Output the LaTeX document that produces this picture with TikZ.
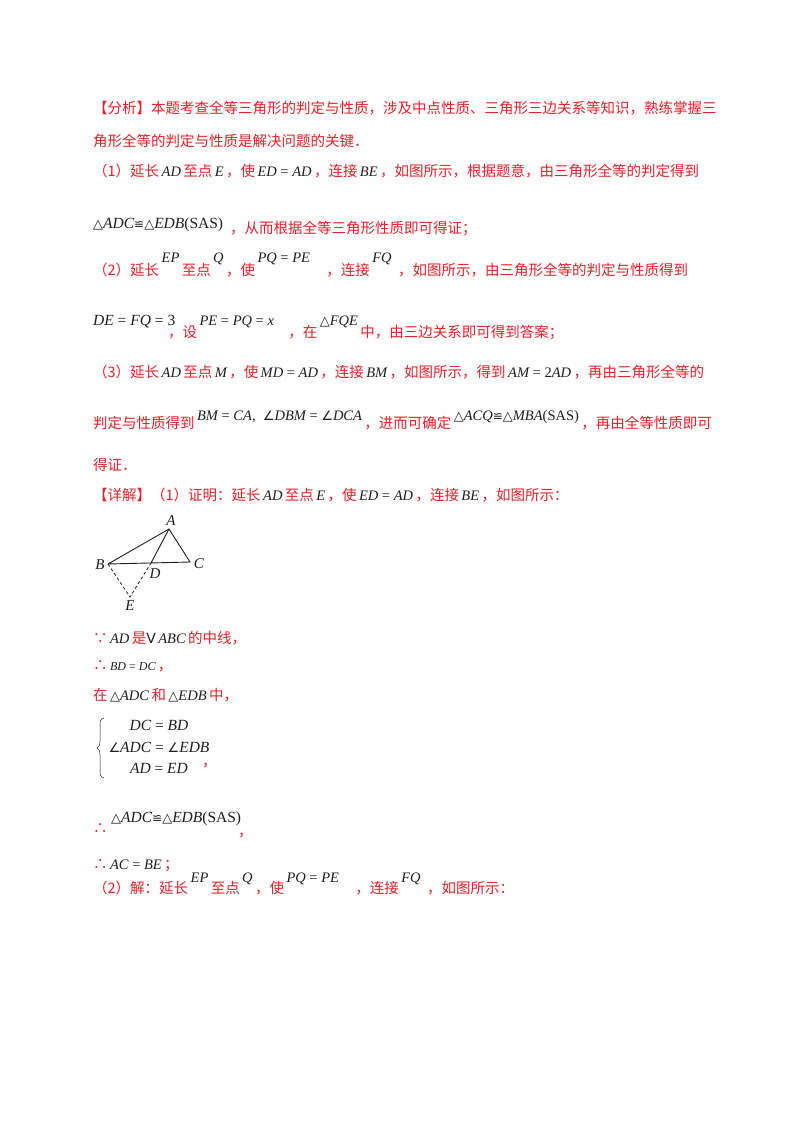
\documentclass[tikz,border=0pt]{standalone}
\usepackage{fontspec}
\setmainfont{Liberation Serif}
\newfontfamily\cjk{Noto Sans CJK SC}
\newfontfamily\djv{DejaVu Sans}
\definecolor{rd}{RGB}{240,30,40}
\definecolor{mk}{RGB}{30,30,30}
\newcommand\m[1]{\,{\color{mk}\fontspec{Liberation Serif}\itshape #1}\,}
\newcommand\upr[1]{{\upshape #1}}
\newcommand\mycong{{\djv\upshape\fontsize{12}{12}\selectfont ≌}}
\newcommand\mytri{{\djv\upshape\fontsize{13}{13}\selectfont △}}
\newcommand\myang{{\djv\upshape\fontsize{13}{13}\selectfont ∠}}
\begin{document}
\begin{tikzpicture}[x=1pt,y=-1pt,
  t/.style={anchor=base west,inner sep=0pt,text=rd,font=\cjk\fontsize{14.5}{17}\selectfont},
  mm/.style={anchor=base west,inner sep=0pt,text=mk,font=\fontsize{15.5}{17}\selectfont\itshape},
  lb/.style={inner sep=0pt,text=mk,font=\fontsize{15}{17}\selectfont\itshape}]
\useasboundingbox[fill=white] (0,0) rectangle (800,1132);
\node[t] (l1) at (93,113) {【分析】本题考查全等三角形的判定与性质，涉及中点性质、三角形三边关系等知识，熟练掌握三};
\node[t] (l2) at (93,146) {角形全等的判定与性质是解决问题的关键．};
\node[t] (l3) at (93,176) {（1）延长\m{AD}至点\m{E}，使\m{ED\upr{ = }AD}，连接\m{BE}，如图所示，根据题意，由三角形全等的判定得到};
\node[mm] (l4m) at (93,228) {\mytri ADC\mycong\mytri EDB\upr{(SAS)}};
\node[t] (l4) at (230,233) {，从而根据全等三角形性质即可得证；};
\node[t] (l5) at (93,275) {（2）延长\raisebox{13pt}{\m{EP}}至点\raisebox{13pt}{\m{Q}}，使\raisebox{13pt}{\m{PQ\upr{ = }PE}}\hspace{14pt}，连接\raisebox{13pt}{\m{FQ}}\hspace{4pt}，如图所示，由三角形全等的判定与性质得到};
\node[mm] (l6m) at (93,325) {DE\upr{ = }FQ\upr{ = 3}};
\node[t] (l6) at (168,337) {，设\raisebox{12pt}{\m{PE\upr{ = }PQ\upr{ = }x}}\hspace{12pt}，在\raisebox{12pt}{\m{\mytri FQE}}中，由三边关系即可得到答案；};
\node[t] (l7) at (93,377) {（3）延长\m{AD}至点\m{M}，使\m{MD\upr{ = }AD}，连接\m{BM}，如图所示，得到\m{AM\upr{ = 2}AD}，再由三角形全等的};
\node[t] (l8) at (93,428) {判定与性质得到\raisebox{8pt}{\m{BM\upr{ = }CA\upr{,}\ \ \myang DBM\upr{ = }\myang DCA}}，进而可确定\raisebox{8pt}{\m{\mytri ACQ\mycong\mytri MBA\upr{(SAS)}}}，再由全等性质即可};
\node[t] (l9) at (93,470) {得证．};
\node[t] (l10) at (93,500) {【详解】（1）证明：延长\m{AD}至点\m{E}，使\m{ED\upr{ = }AD}，连接\m{BE}，如图所示：};
% figure
\coordinate (A) at (169,529);
\coordinate (B) at (108,564);
\coordinate (C) at (190,562);
\coordinate (D) at (151,563);
\coordinate (E) at (130,597);
\draw[line width=0.9pt,mk] (B) -- (A) -- (C) -- (B);
\draw[line width=0.9pt,mk] (A) -- (D);
\draw[line width=0.8pt,mk,dash pattern=on 3pt off 2.5pt] (B) -- (E) -- (D);
\node[lb] (lA) at (171,521) {A};
\node[lb] (lB) at (100,565) {B};
\node[lb] (lC) at (199,564) {C};
\node[lb] (lD) at (155,574) {D};
\node[lb] (lE) at (130,606) {E};
\node[t] (s1) at (93,643) {∵\m{AD}是{\color{mk}\djv\upshape\fontsize{14}{14}\selectfont V}\m{ABC}的中线，};
\node[t] (s2) at (93,670) {∴\m{\fontsize{12}{12}\selectfont BD\upr{ = }DC}，};
\node[t] (s3) at (93,700) {在\m{\mytri ADC}和\m{\mytri EDB}中，};
\draw[mk,line width=0.5pt] (104,718) .. controls (100,719) and (100,722) .. (100,726) -- (100,741) .. controls (100,745) and (99,747) .. (97,748) .. controls (99,749) and (100,751) .. (100,755) -- (100,770) .. controls (100,774) and (100,777) .. (104,778);
\node[mm,anchor=base] (r1) at (159,730) {DC\upr{ = }BD};
\node[mm,anchor=base] (r2) at (159,752) {\myang ADC\upr{ = }\myang EDB};
\node[mm,anchor=base] (r3) at (159,773) {AD\upr{ = }ED};
\node[t] (sc) at (202,766) {，};
\node[t] (s4) at (93,833) {∴};
\node[mm] (s4m) at (111,822) {\mytri ADC\mycong\mytri EDB\upr{(SAS)}};
\node[t] (s4c) at (238,836) {，};
\node[t] (s5) at (93,869) {∴\m{AC\upr{ = }BE}；};
\node[t] (s6) at (93,893) {（2）解：延长\raisebox{11pt}{\m{EP}}至点\raisebox{11pt}{\m{Q}}，使\raisebox{11pt}{\m{PQ\upr{ = }PE}}\hspace{14pt}，连接\raisebox{11pt}{\m{FQ}}\hspace{4pt}，如图所示：};
\end{tikzpicture}
\end{document}
